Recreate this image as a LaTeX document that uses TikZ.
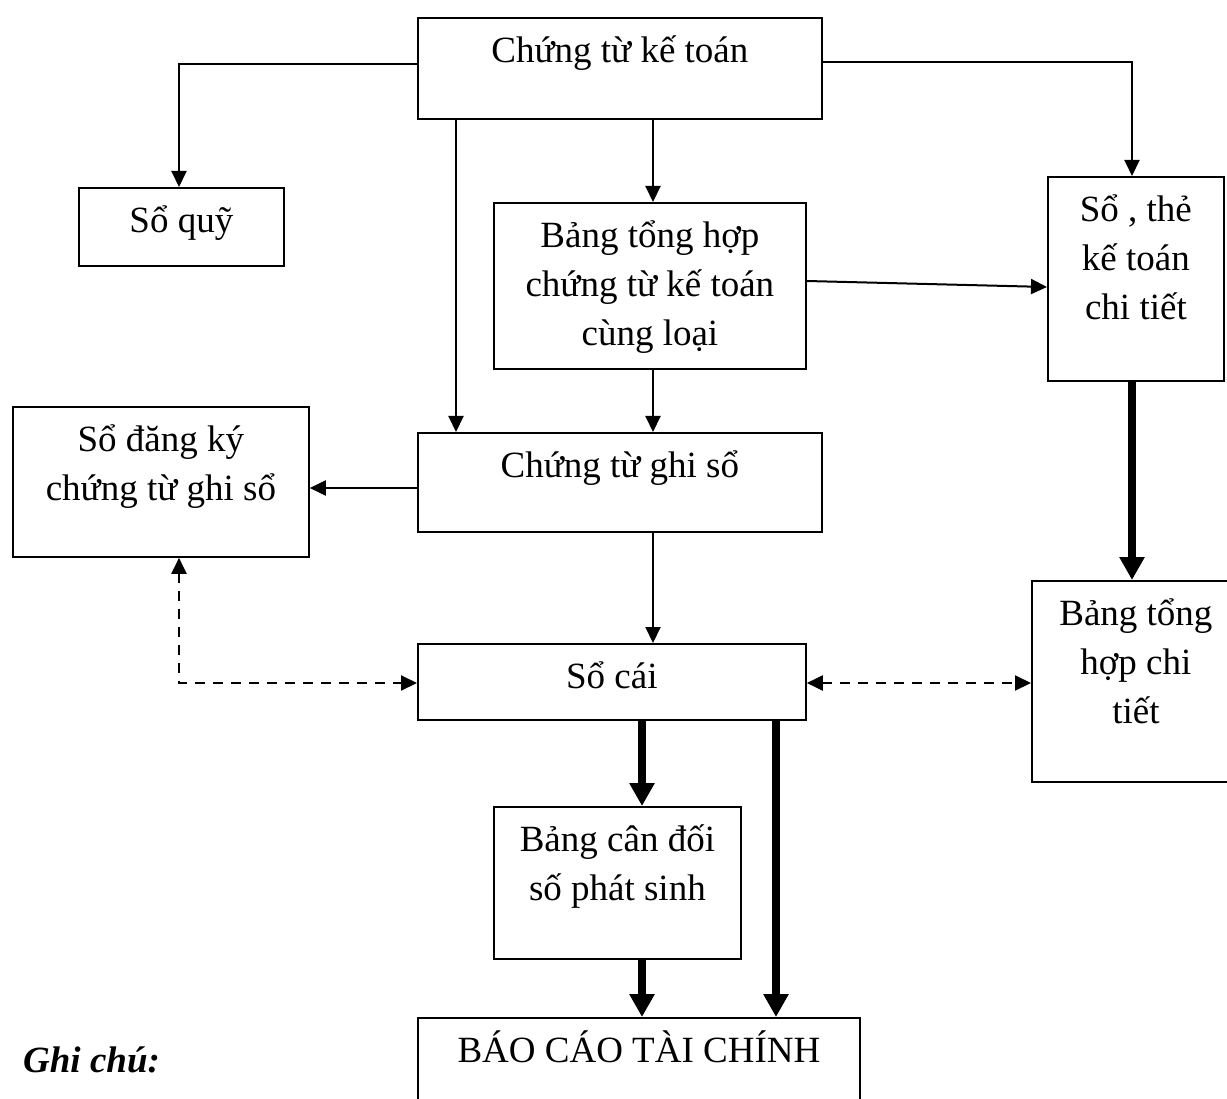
\documentclass[tikz,border=0pt]{standalone}
\usepackage{fontspec}
\setmainfont{Liberation Serif}
\usetikzlibrary{arrows.meta}

% box with a fixed size; text lines start 45pt below the top edge
\newcommand{\bxtext}[3]{\parbox[t][#2][t]{#1}{\centering\fontsize{37}{49}\selectfont\rule{0pt}{45pt}#3}}

\tikzset{
  box/.style={draw, line width=1.8pt, inner sep=0pt, anchor=north west},
  arr/.style={line width=2pt, -{Triangle[length=16pt,width=15pt]}},
  thickarr/.style={line width=7.5pt, -{Triangle[length=23pt,width=24pt]}},
  dasharr/.style={line width=2pt, dash pattern=on 10pt off 8pt,
    {Triangle[length=16pt,width=15pt]}-{Triangle[length=16pt,width=15pt]}},
}

\begin{document}
\begin{tikzpicture}[x=1pt,y=-1pt]
\useasboundingbox (0,0) rectangle (1227,1099);

% boxes
\node[box] (a) at (417,17)   {\bxtext{404pt}{101pt}{Chứng từ kế toán}};
\node[box] (b) at (78,187)   {\bxtext{205pt}{78pt}{Sổ quỹ}};
\node[box] (c) at (493,202)  {\bxtext{312pt}{166pt}{Bảng tổng hợp\\chứng từ kế toán\\cùng loại}};
\node[box] (d) at (1047,176) {\bxtext{176pt}{204pt}{Sổ , thẻ\\kế toán\\chi tiết}};
\node[box] (e) at (12,406)   {\bxtext{296pt}{150pt}{Sổ đăng ký\\chứng từ ghi sổ}};
\node[box] (f) at (417,432)  {\bxtext{404pt}{99pt}{Chứng từ ghi sổ}};
\node[box] (g) at (417,643)  {\bxtext{388pt}{76pt}{Sổ cái}};
\node[box] (h) at (1031,580) {\bxtext{208pt}{201pt}{Bảng tổng\\hợp chi\\tiết}};
\node[box] (i) at (493,806)  {\bxtext{247pt}{152pt}{Bảng cân đối\\số phát sinh}};
\node[box] (j) at (417,1017) {\bxtext{442pt}{110pt}{BÁO CÁO TÀI CHÍNH}};

\node[anchor=base west, inner sep=0pt] (note) at (23,1072)
  {\fontsize{37}{49}\selectfont\textbf{\textit{Ghi chú:}}};

% guide coordinates for connector routes
\coordinate (c1) at (179,64);
\coordinate (c2) at (456,0);
\coordinate (c3) at (653,0);
\coordinate (c4) at (1132,62);
\coordinate (c6) at (0,281);
\coordinate (c7) at (0,287);
\coordinate (c8) at (0,488);
\coordinate (c9) at (0,683);
\coordinate (c10) at (642,0);
\coordinate (c11) at (776,0);

% thin connectors
\draw[arr] (a.west |- c1) -| (b.north -| c1);
\draw[arr] (a.south -| c2) -- (f.north -| c2);
\draw[arr] (a.south -| c3) -- (c.north -| c3);
\draw[arr] (a.east |- c4) -| (d.north -| c4);
\draw[arr] (c.east |- c6) -- (d.west |- c7);
\draw[arr] (c.south -| c3) -- (f.north -| c3);
\draw[arr] (f.west |- c8) -- (e.east |- c8);
\draw[arr] (f.south -| c3) -- (g.north -| c3);

% thick connectors
\draw[thickarr] (d.south -| c4) -- (h.north -| c4);
\draw[thickarr] (g.south -| c10) -- (i.north -| c10);
\draw[thickarr] (g.south -| c11) -- (j.north -| c11);
\draw[thickarr] (i.south -| c10) -- (j.north -| c10);

% dashed two-way connectors
\draw[dasharr] (e.south -| c1) |- (g.west |- c9);
\draw[dasharr] (g.east |- c9) -- (h.west |- c9);
\end{tikzpicture}
\end{document}
